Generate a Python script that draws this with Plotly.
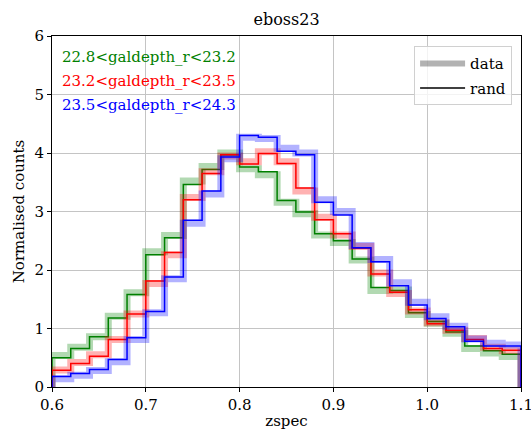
import plotly.graph_objects as go

# bin edges of the zspec histogram
bin_edges = [0.60, 0.62, 0.64, 0.66, 0.68, 0.70, 0.72, 0.74, 0.76, 0.78, 0.80,
             0.82, 0.84, 0.86, 0.88, 0.90, 0.92, 0.94, 0.96, 0.98, 1.00,
             1.02, 1.04, 1.06, 1.08, 1.10]

labels = ["22.8<galdepth_r<23.2", "23.2<galdepth_r<23.5", "23.5<galdepth_r<24.3"]
colors = ["#008000", "#ff0000", "#0000ff"]

green_data = [0.54, 0.68, 0.86, 1.21, 1.61, 2.31, 2.59, 3.52, 3.77, 4.00, 3.73, 3.63, 3.16,
              2.96, 2.60, 2.47, 2.17, 1.65, 1.66, 1.24, 1.09, 0.92, 0.66, 0.58, 0.52]
green_rand = [0.50, 0.66, 0.86, 1.18, 1.58, 2.26, 2.55, 3.46, 3.72, 3.97, 3.76, 3.68, 3.19,
              2.99, 2.62, 2.50, 2.19, 1.70, 1.65, 1.27, 1.12, 0.94, 0.70, 0.62, 0.56]
red_data = [0.29, 0.42, 0.55, 0.81, 1.25, 1.77, 2.26, 3.24, 3.68, 3.95, 3.85, 4.02, 3.85,
            3.35, 2.90, 2.60, 2.40, 1.95, 1.60, 1.30, 1.10, 0.97, 0.83, 0.68, 0.62]
red_rand = [0.285, 0.40, 0.525, 0.81, 1.25, 1.81, 2.30, 3.20, 3.65, 3.97, 3.81, 3.99, 3.82,
            3.40, 2.86, 2.62, 2.37, 1.93, 1.62, 1.32, 1.08, 0.97, 0.81, 0.66, 0.63]
blue_data = [0.14, 0.20, 0.28, 0.43, 0.81, 1.27, 1.85, 2.80, 3.30, 3.90, 4.27, 4.25, 4.08,
             4.00, 3.20, 3.00, 2.42, 2.18, 1.78, 1.45, 1.20, 1.04, 0.82, 0.75, 0.72]
blue_rand = [0.18, 0.23, 0.30, 0.47, 0.84, 1.29, 1.88, 2.85, 3.35, 3.93, 4.30, 4.27, 4.03,
             3.97, 3.16, 2.94, 2.38, 2.14, 1.73, 1.40, 1.17, 1.03, 0.78, 0.70, 0.70]

series_data = [green_data, red_data, blue_data]
series_rand = [green_rand, red_rand, blue_rand]

x_ticks = [0.6, 0.7, 0.8, 0.9, 1.0, 1.1]
y_ticks = [0, 1, 2, 3, 4, 5, 6]

FONT = "DejaVu Serif"


def step_xy(edges, vals):
    xs = [edges[0]] + list(edges[:-1]) + [edges[-1], edges[-1]]
    ys = [0] + list(vals) + [vals[-1], 0]
    return xs, ys


def rgba(hexc, a):
    h = hexc.lstrip("#")
    r, g, b = int(h[0:2], 16), int(h[2:4], 16), int(h[4:6], 16)
    return f"rgba({r},{g},{b},{a})"


fig = go.Figure()
for col, dv, rv in zip(colors, series_data, series_rand):
    xs, ys = step_xy(bin_edges, dv)
    fig.add_trace(go.Scatter(x=xs, y=ys, mode="lines", line_shape="hv",
                             line=dict(color=rgba(col, 0.3), width=7),
                             showlegend=False, hoverinfo="skip"))
    xs, ys = step_xy(bin_edges, rv)
    fig.add_trace(go.Scatter(x=xs, y=ys, mode="lines", line_shape="hv",
                             line=dict(color=col, width=1.5),
                             showlegend=False, hoverinfo="skip"))

# legend proxies
fig.add_trace(go.Scatter(x=[None], y=[None], mode="lines", name="data", legendgroup="d",
                         line=dict(color="rgba(0,0,0,0.3)", width=6)))
fig.add_trace(go.Scatter(x=[None], y=[None], mode="lines", name="rand", legendgroup="r",
                         line=dict(color="black", width=1.5)))

for i, (lab, col) in enumerate(zip(labels, colors)):
    fig.add_annotation(text=lab, xref="paper", yref="paper",
                       x=0.016, y=0.941 - i * 0.0685, xanchor="left", yanchor="middle",
                       showarrow=False, font=dict(color=col, size=15, family=FONT))

fig.update_layout(
    width=531, height=433,
    margin=dict(l=51.5, r=9.5, t=36, b=46.3, autoexpand=False),
    plot_bgcolor="white", paper_bgcolor="white",
    font=dict(family=FONT, size=15, color="black"),
    title=dict(text="eboss23", x=(51.5 + 470 / 2) / 531, xanchor="center",
               y=1 - 19 / 433, yanchor="middle", font=dict(size=16, family=FONT)),
    showlegend=True,
    legend=dict(x=0.981, y=0.971, xanchor="right", yanchor="top",
                tracegroupgap=2, itemwidth=45,
                bgcolor="rgba(255,255,255,0.8)", bordercolor="#d0d0d0", borderwidth=1,
                font=dict(size=15, family=FONT)),
    xaxis=dict(range=[0.6, 1.1], tickvals=x_ticks,
               ticktext=[f"{v:.1f}" for v in x_ticks],
               tickfont=dict(size=15, family=FONT), ticklabeloverflow="allow",
               showgrid=True, gridcolor="#c4c4c4", gridwidth=1.2,
               showline=True, linecolor="black", linewidth=1, mirror=True,
               ticks="outside", ticklen=4, tickcolor="black", zeroline=False,
               title=dict(text="zspec", standoff=2, font=dict(size=15, family=FONT))),
    yaxis=dict(range=[0, 6], tickvals=y_ticks,
               tickfont=dict(size=15, family=FONT),
               showgrid=True, gridcolor="#c4c4c4", gridwidth=1.2,
               showline=True, linecolor="black", linewidth=1, mirror=True,
               ticks="outside", ticklen=4, tickcolor="black", zeroline=False,
               title=dict(text="Normalised counts", standoff=6, font=dict(size=15, family=FONT))),
)

fig.write_html("out.html", config={"displayModeBar": False},
               post_script="document.body.style.margin='0';document.body.style.overflow='hidden';")
